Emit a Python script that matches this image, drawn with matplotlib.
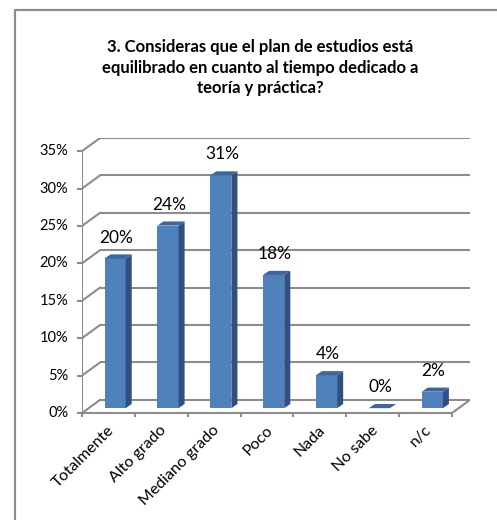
import matplotlib
matplotlib.use("Agg")
import matplotlib.pyplot as plt
from matplotlib.patches import Polygon
from matplotlib.lines import Line2D

plt.rcParams['font.family'] = ['Lato', 'DejaVu Sans']

# Survey answers (share of respondents, %)
categories = ["Totalmente", "Alto grado", "Mediano grado", "Poco", "Nada", "No sabe", "n/c"]
values = [20.0, 24.4, 31.1, 17.8, 4.4, 0.0, 2.2]
yticks = [0, 5, 10, 15, 20, 25, 30, 35]
title = ("3. Consideras que el plan de estudios está\n"
         "equilibrado en cuanto al tiempo dedicado a\n"
         "teoría y práctica?")

# colours
FRONT = "#4F81BD"
SIDE = "#2F5081"
TOP = "#3C659B"
GRID = "#8C8C8C"

# pseudo-3D geometry (data units)
DX, DY = 0.34, 1.75          # depth of the walls
F = 0.37                     # depth position of the bars
BW = 0.40                    # bar width
BDX, BDY = 0.115, 0.55       # bar depth
YMAX = yticks[-1]

W, H = 497, 520
fig = plt.figure(figsize=(W / 100, H / 100), dpi=100)
fig.patch.set_facecolor("white")

# chart frame (only the top and left edges fall inside the image)
fig.add_artist(Line2D([15 / W, 15 / W, 1.0], [0.0, 1 - 10 / H, 1 - 10 / H],
                      color=GRID, lw=1.6, transform=fig.transFigure))

fig.text(260 / W, 1 - 67.5 / H, title, ha="center", va="center",
         fontsize=12, fontweight="bold", linespacing=1.32, color="black")

ax = fig.add_axes([82 / W, 107 / H, 388 / W, 275 / H])
ax.set_xlim(-0.5, len(categories) - 0.5 + DX)
ax.set_ylim(0, YMAX + DY)
ax.axis("off")

x0 = -0.5
x1 = len(categories) - 0.5
lw = 1.5

# back wall grid lines plus the side-wall diagonals
for v in yticks:
    ax.plot([x0 + DX, x1 + DX], [v + DY, v + DY], color=GRID, lw=lw,
            solid_capstyle="butt", zorder=1)
    ax.plot([x0, x0 + DX], [v, v + DY], color=GRID, lw=lw, zorder=1)
    ax.plot([x0 - 0.07, x0], [v, v], color=GRID, lw=lw, zorder=1, clip_on=False)
    ax.text(x0 - 0.26, v, f"{v}%", ha="right", va="center", fontsize=10.5)

# value axis and floor edges
ax.plot([x0, x0], [0, YMAX], color=GRID, lw=lw, zorder=1)
ax.plot([x0, x1], [0, 0], color=GRID, lw=lw, zorder=1, clip_on=False)
ax.plot([x1, x1 + DX], [0, DY], color=GRID, lw=lw, zorder=1)
for i in range(len(categories) + 1):
    ax.plot([x0 + i, x0 + i], [0, -0.45], color=GRID, lw=lw, zorder=1, clip_on=False)

# bars
for i, (cat, v) in enumerate(zip(categories, values)):
    l = i - BW / 2 + F * DX
    r = i + BW / 2 + F * DX
    b = F * DY
    t = v + F * DY
    front = Polygon([(l, b), (r, b), (r, t), (l, t)], closed=True,
                    facecolor=FRONT, edgecolor="none", zorder=3)
    side = Polygon([(r, b), (r + BDX, b + BDY), (r + BDX, t + BDY), (r, t)],
                   closed=True, facecolor=SIDE, edgecolor="none", zorder=3)
    top = Polygon([(l, t), (r, t), (r + BDX, t + BDY), (l + BDX, t + BDY)],
                  closed=True, facecolor=TOP, edgecolor="none", zorder=3)
    for p in (front, side, top):
        ax.add_patch(p)
    ax.text((l + r) / 2 + 0.02, t + 2.8, f"{v:.0f}%", ha="center", va="center",
            fontsize=12.5, zorder=4)
    ax.text(i + 0.06, -2.0, cat, ha="right", va="center", rotation=45,
            rotation_mode="anchor", fontsize=11.5, clip_on=False)

fig.savefig("out.png", dpi=100, facecolor="white")
